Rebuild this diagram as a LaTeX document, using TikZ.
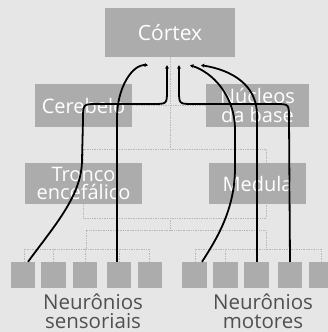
\documentclass[tikz,border=0pt]{standalone}
\usepackage{fontspec}
\setmainfont{Open Sans}
\usetikzlibrary{arrows.meta}
\definecolor{bg}{RGB}{230,230,230}
\definecolor{boxgray}{RGB}{172,172,172}
\definecolor{treegray}{RGB}{185,185,185}
\definecolor{labgray}{RGB}{80,80,80}
\tikzset{
  region/.style={fill=boxgray, draw=none, text=white, inner sep=0pt, align=center,
    font=\fontsize{20}{18}\selectfont},
  neuron/.style={fill=boxgray, draw=none, minimum width=24.5pt, minimum height=26pt, inner sep=0pt},
  tree/.style={draw=treegray, line width=0.7pt, densely dotted},
  path/.style={draw=black, line width=1.8pt},
  tip/.style={-{Stealth[length=3.5pt,width=4pt]}},
  pit/.style={{Stealth[length=3.5pt,width=4pt]}-},
  lab/.style={text=labgray, align=center, font=\fontsize{20.5}{18.5}\selectfont, inner sep=0pt},
}
\begin{document}
\begin{tikzpicture}[x=1pt,y=-1pt]
\useasboundingbox (0,0) rectangle (328,332);
\fill[bg] (0,0) rectangle (328,332);
\begin{scope}
\clip (0,0) rectangle (328,332);
% region boxes
\node[region, minimum width=130pt, minimum height=49pt, font=\fontsize{21}{18}\selectfont] (cortex) at (170,32.5) {Córtex};
\node[region, minimum width=97pt, minimum height=43pt] (cereb) at (83.5,105.5) {Cerebelo};
\node[region, minimum width=103pt, minimum height=43pt, font=\fontsize{20}{19}\selectfont] (nucl) at (257.5,105.5) {Núcleos\\da base};
\node[region, minimum width=117pt, minimum height=41pt] (tronco) at (83.5,183.5) {Tronco\\encefálico};
\node[region, minimum width=97pt, minimum height=41pt] (medula) at (257.5,183.5) {Medula};
% neuron boxes
\foreach \i/\x in {1/23,2/53.5,3/85,4/119,5/150}
  \node[neuron] (s\i) at (\x,275) {};
\foreach \i/\x in {1/194.5,2/225.5,3/256.5,4/290,5/321}
  \node[neuron] (m\i) at (\x,275) {};
% tree
\coordinate (j1) at (170,149);
\coordinate (j2) at (170,218);
\coordinate (j3) at (170,230);
\coordinate (sa) at (86,249);
\coordinate (ma) at (266,249);
\draw[tree] (cortex.south) -- (j1);
\draw[tree] (cereb.east) -- (nucl.west);
\draw[tree] (tronco.north) |- (j1) -| ([xshift=8.5pt]medula.north);
\draw[tree] (tronco.south) |- (j2) -| ([xshift=8.5pt]medula.south);
\draw[tree] (j2) -- (j3);
\draw[tree] (sa) |- (j3) -| (ma);
\draw[tree] ([xshift=1pt]s1.north) |- (sa);
\draw[tree] ([xshift=-1pt]s5.north) |- (sa);
\foreach \i in {2,3,4} \draw[tree] (s\i.north) -- (s\i.north |- sa);
\draw[tree] ([xshift=0.5pt]m1.north) |- (ma);
\draw[tree] (m5.north) |- (ma);
\foreach \i in {2,3,4} \draw[tree] (m\i.north) -- (m\i.north |- ma);
% pathways
\draw[path, tip] ([xshift=5pt]s1.north) .. controls (55,225) and (82,195) .. (82,160)
  -- (83,120) .. controls (83,104) .. (97,104) -- (153,104) .. controls (167,104) .. (167,90)
  -- ([xshift=-3pt,yshift=-8pt]cortex.south);
\draw[path, tip] ([xshift=-2pt]s4.north) -- (117,118) .. controls (117,88) and (132,64) .. ([xshift=-22pt,yshift=-8pt]cortex.south);
\draw[path, pit] ([xshift=9pt,yshift=-8pt]cortex.south) -- (179,90) .. controls (179,104) .. (193,104)
  -- (275,104) .. controls (289,104) .. (289,118) -- (m4.north);
\draw[path, pit] ([xshift=20pt,yshift=-8pt]cortex.south) .. controls (212,72) and (235,95) .. (235,130)
  -- (235,168) .. controls (235,210) and (216,240) .. ([xshift=7.5pt]m1.north);
\draw[path, pit] ([xshift=31pt,yshift=-8pt]cortex.south) .. controls (232,70) and (257,85) .. (257,115)
  -- ([xshift=0.5pt]m3.north);
\end{scope}
% labels
\node[lab] (lsens) at (93,311) {Neurônios\\sensoriais};
\node[lab] (lmot) at (263,311) {Neurônios\\motores};
\end{tikzpicture}
\end{document}
